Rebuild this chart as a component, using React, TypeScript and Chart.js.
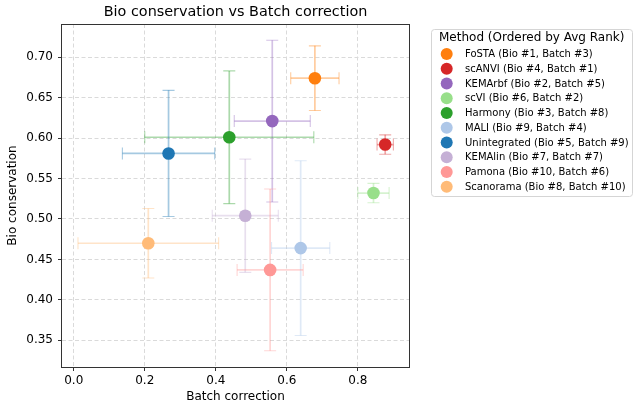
import React, { useEffect, useRef } from 'react';
import { Chart, registerables } from 'chart.js';

Chart.register(...registerables);

const methods = ['FoSTA', 'scANVI', 'KEMArbf', 'scVI', 'Harmony', 'MALI', 'Unintegrated', 'KEMAlin', 'Pamona', 'Scanorama'];
const bioRank = [1, 4, 2, 6, 3, 9, 5, 7, 10, 8];
const batchRank = [3, 1, 5, 2, 8, 4, 9, 7, 6, 10];
const batchMean = [0.679, 0.877, 0.559, 0.844, 0.438, 0.639, 0.267, 0.483, 0.553, 0.21];
const batchErr = [0.068, 0.023, 0.107, 0.044, 0.238, 0.082, 0.130, 0.093, 0.093, 0.198];
const bioMean = [0.674, 0.592, 0.621, 0.532, 0.601, 0.464, 0.581, 0.504, 0.437, 0.47];
const bioErr = [0.040, 0.012, 0.100, 0.012, 0.082, 0.108, 0.078, 0.070, 0.100, 0.043];
const colors = ['#ff7f0e', '#d62728', '#9467bd', '#98df8a', '#2ca02c', '#aec7e8', '#1f77b4', '#c5b0d5', '#ff9896', '#ffbb78'];

const xTicks = [0, 0.2, 0.4, 0.6, 0.8];
const xTickLabels = ['0.0', '0.2', '0.4', '0.6', '0.8'];
const yTicks = [0.35, 0.4, 0.45, 0.5, 0.55, 0.6, 0.65, 0.7];
const yTickLabels = ['0.35', '0.40', '0.45', '0.50', '0.55', '0.60', '0.65', '0.70'];

const chartTitle = 'Bio conservation vs Batch correction';
const xTitle = 'Batch correction';
const yTitle = 'Bio conservation';
const legendTitle = 'Method (Ordered by Avg Rank)';

const FONT = "'DejaVu Sans', sans-serif";
const TEXT = '#000000';

function rgba(hex: string, a: number) {
  const n = parseInt(hex.slice(1), 16);
  return `rgba(${(n >> 16) & 255},${(n >> 8) & 255},${n & 255},${a})`;
}

const errorBarPlugin = {
  id: 'errorBars',
  beforeDatasetsDraw(chart: any) {
    const { ctx, scales } = chart;
    const x = scales.x;
    const y = scales.y;
    const cap = 6;
    ctx.save();
    chart.data.datasets.forEach((ds: any, i: number) => {
      const p = ds.data[0];
      const px = x.getPixelForValue(p.x);
      const py = y.getPixelForValue(p.y);
      const xl = x.getPixelForValue(p.x - p.xErr);
      const xr = x.getPixelForValue(p.x + p.xErr);
      const yt = y.getPixelForValue(p.y + p.yErr);
      const yb = y.getPixelForValue(p.y - p.yErr);
      ctx.strokeStyle = rgba(colors[i], 0.4);
      ctx.lineWidth = 1.7;
      ctx.beginPath();
      ctx.moveTo(xl, py); ctx.lineTo(xr, py);
      ctx.moveTo(px, yt); ctx.lineTo(px, yb);
      ctx.stroke();
      ctx.lineWidth = 1.1;
      ctx.beginPath();
      ctx.moveTo(xl, py - cap); ctx.lineTo(xl, py + cap);
      ctx.moveTo(xr, py - cap); ctx.lineTo(xr, py + cap);
      ctx.moveTo(px - cap, yt); ctx.lineTo(px + cap, yt);
      ctx.moveTo(px - cap, yb); ctx.lineTo(px + cap, yb);
      ctx.stroke();
    });
    ctx.restore();
  },
};

const decorPlugin = {
  id: 'decor',
  afterDraw(chart: any) {
    const { ctx, chartArea } = chart;
    const { left, right, top, bottom } = chartArea;
    ctx.save();
    // frame
    ctx.strokeStyle = '#333333';
    ctx.lineWidth = 1;
    ctx.strokeRect(Math.round(left) - 0.5, Math.round(top) + 0.5, Math.round(right - left) + 1, Math.round(bottom - top));
    // title
    ctx.fillStyle = TEXT;
    ctx.font = `14.4px ${FONT}`;
    ctx.textAlign = 'center';
    ctx.textBaseline = 'middle';
    ctx.fillText(chartTitle, (left + right) / 2, 12);
    // legend
    const bx = 431.5, by = 29.5, bw = 201, bh = 167;
    ctx.fillStyle = 'rgba(255,255,255,0.8)';
    ctx.strokeStyle = '#d5d5d5';
    ctx.beginPath();
    ctx.roundRect(bx, by, bw, bh, 3);
    ctx.fill();
    ctx.stroke();
    ctx.fillStyle = TEXT;
    ctx.textAlign = 'left';
    ctx.font = `12px ${FONT}`;
    ctx.fillText(legendTitle, 439, 38);
    ctx.font = `10px ${FONT}`;
    methods.forEach((m, i) => {
      const yy = 54 + i * 14.74;
      ctx.fillStyle = colors[i];
      ctx.beginPath();
      ctx.arc(446.7, yy, 6, 0, Math.PI * 2);
      ctx.fill();
      ctx.fillStyle = TEXT;
      ctx.fillText(`${m} (Bio #${bioRank[i]}, Batch #${batchRank[i]})`, 465, yy + 0.5);
    });
    ctx.restore();
  },
};

export default function App() {
  const ref = useRef<HTMLCanvasElement | null>(null);
  useEffect(() => {
    if (!ref.current) return;
    const datasets = methods.map((m, i) => ({
      label: m,
      data: [{ x: batchMean[i], y: bioMean[i], xErr: batchErr[i], yErr: bioErr[i] }],
      pointRadius: 6.3,
      pointHoverRadius: 6.3,
      pointBackgroundColor: colors[i],
      pointBorderColor: colors[i],
      pointBorderWidth: 0,
    }));
    const gridCommon = {
      color: '#dadada',
      lineWidth: 1,
      tickColor: '#333333',
      tickBorderDash: [],
      tickLength: 4,
      tickWidth: 1,
    };
    const borderCommon = { display: false, dash: [4, 2.5] };
    const chart = new Chart(ref.current, {
      type: 'scatter',
      data: { datasets },
      plugins: [errorBarPlugin, decorPlugin],
      options: {
        animation: false,
        responsive: true,
        maintainAspectRatio: false,
        devicePixelRatio: 1,
        events: [],
        layout: { padding: { top: 24, right: 225, left: 0, bottom: 0 } },
        plugins: { legend: { display: false }, tooltip: { enabled: false }, title: { display: false } },
        scales: {
          x: {
            type: 'linear',
            min: -0.033,
            max: 0.944,
            afterBuildTicks: (s: any) => { s.ticks = xTicks.map((v) => ({ value: v })); },
            afterFit: (s: any) => { s.height = 37; },
            ticks: {
              callback: (_v: any, i: number) => xTickLabels[i],
              font: { family: FONT, size: 12 },
              color: TEXT,
              padding: 3,
              maxRotation: 0,
              autoSkip: false,
            },
            grid: gridCommon,
            border: borderCommon,
            title: { display: true, text: xTitle, font: { family: FONT, size: 12 }, color: TEXT, padding: { top: 0, bottom: 0 } },
          },
          y: {
            type: 'linear',
            min: 0.317,
            max: 0.741,
            afterBuildTicks: (s: any) => { s.ticks = yTicks.map((v) => ({ value: v })); },
            afterFit: (s: any) => { s.width = 62; },
            ticks: {
              callback: (_v: any, i: number) => yTickLabels[i],
              font: { family: FONT, size: 12 },
              color: TEXT,
              padding: 5,
              autoSkip: false,
            },
            grid: gridCommon,
            border: borderCommon,
            title: { display: true, text: yTitle, font: { family: FONT, size: 12 }, color: TEXT, padding: { top: 6, bottom: 0 } },
          },
        },
      } as any,
    });
    return () => chart.destroy();
  }, []);
  return (
    <div style={{ position: 'fixed', left: 0, top: 0, width: 634, height: 404 }}>
      <canvas ref={ref} />
    </div>
  );
}
